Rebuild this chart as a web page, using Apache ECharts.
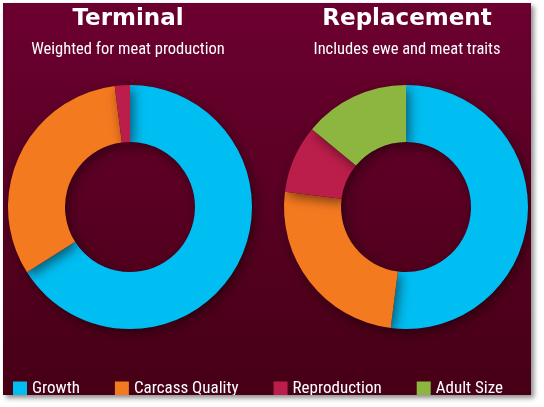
<!DOCTYPE html>
<html><head><meta charset="utf-8">
<script src="https://cdn.jsdelivr.net/npm/echarts@6/dist/echarts.min.js"></script>
<style>
html,body{margin:0;padding:0;background:#fff;width:544px;height:407px;overflow:hidden;}
#c{position:absolute;left:3px;top:3px;width:528px;height:392px;box-shadow:3px 3px 5px rgba(0,0,0,0.45);}
</style></head><body>
<div id="c"></div>
<script>
var categories = ['Growth', 'Carcass Quality', 'Reproduction', 'Adult Size'];
var colors = ['#00BEF2', '#F47A20', '#BC1E4B', '#8CB640'];
var terminalValues = [66, 32, 2, 0];
var replacementValues = [52, 25, 9, 14];
var titles = ['Terminal', 'Replacement'];
var subtitles = ['Weighted for meat production', 'Includes ewe and meat traits'];

var narrow = "'Liberation Sans Narrow', 'Arial Narrow', 'Roboto Condensed', sans-serif";
var heavy = "'DejaVu Sans', sans-serif";

function mkData(vals){
  var out = [];
  for (var i = 0; i < categories.length; i++) {
    if (vals[i] > 0) out.push({name: categories[i], value: vals[i], itemStyle: {color: colors[i]}});
  }
  return out;
}
function mkSeries(vals, cx){
  return {
    type: 'pie', radius: [65, 122], center: [cx, 204], startAngle: 90, clockwise: true,
    label: {show: false}, labelLine: {show: false}, silent: true, animation: false,
    itemStyle: {borderWidth: 0, shadowBlur: 12, shadowOffsetX: 3, shadowOffsetY: 4, shadowColor: 'rgba(20,0,5,0.55)'},
    data: mkData(vals)
  };
}
var chart = echarts.init(document.getElementById('c'));
chart.setOption({
  animation: false,
  backgroundColor: {type: 'linear', x: 0, y: 0, x2: 0, y2: 1,
    colorStops: [{offset: 0, color: '#6c0030'}, {offset: 1, color: '#460016'}]},
  color: colors,
  title: [
    {text: titles[0], subtext: subtitles[0], left: 120, top: 0, textAlign: 'center', itemGap: 10,
     textStyle: {color: '#fff', fontFamily: heavy, fontWeight: 'bold', fontSize: 23},
     subtextStyle: {color: '#fff', fontFamily: narrow, fontSize: 16.5}},
    {text: titles[1], subtext: subtitles[1], left: 399, top: 0, textAlign: 'center', itemGap: 10,
     textStyle: {color: '#fff', fontFamily: heavy, fontWeight: 'bold', fontSize: 23},
     subtextStyle: {color: '#fff', fontFamily: narrow, fontSize: 16.5}}
  ],
  legend: {
    data: categories, left: 5, top: 372, orient: 'horizontal', icon: 'rect',
    itemWidth: 14, itemHeight: 14, itemGap: 35,
    textStyle: {color: '#fff', fontFamily: narrow, fontSize: 17}
  },
  series: [mkSeries(terminalValues, 127), mkSeries(replacementValues, 403)]
});
</script></body></html>
